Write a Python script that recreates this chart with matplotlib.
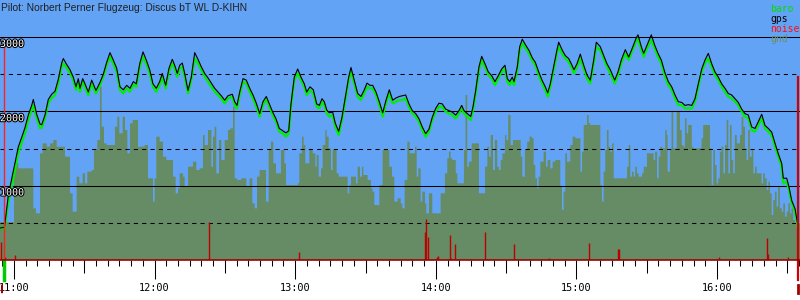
import matplotlib.pyplot as plt
import matplotlib.patheffects as pe

title = "Pilot: Norbert Perner Flugzeug: Discus bT WL D-KIHN"

# time in minutes after 11:00, baro altitude [m], gps altitude [m]
track = [
    (-5.97, 430, 430), (-4.05, 430, 440), (-2.43, 767, 870), (-0.98, 986, 1090),
    (0.43, 1210, 1300), (1.83, 1439, 1520), (3.29, 1574, 1650), (4.69, 1708, 1780),
    (6.10, 1883, 1950), (7.55, 2018, 2080), (8.24, 2085, 2160), (9.69, 1910, 1960),
    (11.09, 1776, 1830), (11.82, 1776, 1820), (13.23, 1910, 1950), (14.64, 2112, 2160),
    (16.09, 2179, 2230), (17.50, 2219, 2270), (18.90, 2381, 2430), (20.35, 2600, 2650),
    (21.04, 2645, 2710), (22.49, 2583, 2630), (23.90, 2515, 2560), (25.30, 2421, 2460),
    (26.46, 2287, 2330), (27.44, 2399, 2440), (28.16, 2264, 2310), (29.31, 2399, 2440),
    (30.30, 2331, 2370), (31.70, 2219, 2260), (33.16, 2376, 2420), (34.99, 2242, 2280),
    (36.70, 2354, 2390), (38.11, 2466, 2500), (39.56, 2623, 2660), (40.96, 2735, 2790),
    (42.37, 2645, 2690), (43.82, 2533, 2580), (45.23, 2287, 2330), (46.64, 2242, 2290),
    (48.09, 2309, 2350), (49.50, 2264, 2310), (50.91, 2360, 2400), (52.19, 2331, 2370),
    (53.64, 2600, 2640), (55.05, 2735, 2800), (56.45, 2645, 2690), (57.90, 2511, 2560),
    (59.31, 2331, 2370), (60.72, 2264, 2310), (62.17, 2354, 2400), (63.28, 2466, 2510),
    (64.73, 2309, 2350), (66.14, 2533, 2580), (67.55, 2645, 2700), (68.57, 2578, 2620),
    (69.68, 2466, 2510), (70.71, 2578, 2620), (71.82, 2600, 2650), (72.84, 2466, 2510),
    (74.25, 2242, 2280), (75.66, 2421, 2460), (77.11, 2712, 2790), (78.51, 2645, 2700),
    (79.92, 2556, 2600), (81.37, 2466, 2510), (82.78, 2399, 2450), (84.19, 2331, 2380),
    (85.64, 2264, 2310), (87.05, 2219, 2260), (88.46, 2174, 2210), (89.91, 2107, 2150),
    (91.32, 2174, 2210), (93.15, 2197, 2230), (94.18, 2085, 2130), (95.16, 2040, 2080),
    (96.31, 2219, 2260), (97.72, 2399, 2440), (99.13, 2376, 2420), (100.58, 2264, 2310),
    (101.99, 2174, 2220), (103.39, 2062, 2110), (104.84, 1928, 1970), (106.25, 2085, 2130),
    (107.66, 2163, 2200), (108.94, 2062, 2100), (110.39, 1950, 1990), (111.80, 1861, 1900),
    (113.21, 1726, 1770), (114.66, 1704, 1740), (116.06, 1659, 1710), (117.22, 1704, 1740),
    (118.20, 2062, 2100), (119.61, 2421, 2460), (121.06, 2511, 2570), (122.47, 2421, 2460),
    (123.88, 2331, 2370), (124.90, 2219, 2260), (126.31, 2287, 2330), (127.72, 2242, 2290),
    (129.17, 2062, 2100), (130.28, 2040, 2080), (131.43, 2130, 2170), (132.41, 2085, 2130),
    (133.44, 1973, 2020), (134.54, 1928, 1980), (135.99, 1950, 1990), (137.10, 1793, 1840),
    (138.55, 1681, 1730), (139.96, 1883, 1920), (141.37, 2152, 2190), (142.82, 2421, 2460),
    (143.80, 2533, 2590), (145.21, 2376, 2420), (146.66, 2197, 2240), (148.07, 2152, 2200),
    (149.48, 2242, 2290), (150.63, 2331, 2380), (151.91, 2309, 2350), (153.06, 2309, 2350),
    (154.47, 2219, 2260), (155.88, 2085, 2130), (157.33, 1928, 1980), (158.74, 2107, 2150),
    (160.15, 2242, 2290), (161.60, 2107, 2150), (163.00, 2130, 2180), (164.41, 2152, 2200),
    (165.69, 2152, 2210), (167.14, 2174, 2220), (168.55, 2062, 2100), (169.96, 1973, 2010),
    (171.41, 1928, 1970), (172.82, 1861, 1900), (174.22, 1749, 1790), (175.68, 1659, 1700),
    (177.08, 1726, 1760), (178.49, 1883, 1920), (179.94, 1995, 2040), (181.35, 2062, 2110),
    (182.76, 2062, 2100), (184.21, 1995, 2030), (185.62, 1973, 2010), (187.03, 1950, 1990),
    (188.48, 1906, 1950), (189.89, 1973, 2010), (191.04, 2040, 2080), (192.02, 1973, 2010),
    (193.43, 1928, 1970), (194.88, 1883, 1930), (195.86, 2018, 2060), (197.01, 2242, 2280),
    (198.42, 2556, 2600), (199.57, 2690, 2740), (200.98, 2600, 2640), (202.39, 2488, 2530),
    (203.84, 2444, 2480), (205.25, 2354, 2400), (206.66, 2444, 2480), (208.11, 2533, 2570),
    (209.51, 2578, 2620), (210.50, 2399, 2440), (211.52, 2354, 2400), (212.63, 2421, 2460),
    (213.36, 2354, 2400), (214.77, 2556, 2600), (215.79, 2825, 2870), (216.90, 2914, 2970),
    (218.35, 2847, 2890), (219.76, 2780, 2820), (221.17, 2680, 2720), (222.45, 2623, 2660),
    (223.90, 2488, 2530), (225.31, 2376, 2420), (226.71, 2287, 2330), (227.74, 2197, 2250),
    (228.85, 2331, 2370), (230.30, 2556, 2600), (231.71, 2780, 2830), (232.43, 2870, 2930),
    (233.84, 2780, 2830), (235.25, 2712, 2750), (236.70, 2668, 2710), (238.11, 2578, 2620),
    (238.96, 2511, 2560), (240.24, 2600, 2640), (241.65, 2712, 2770), (243.10, 2578, 2620),
    (244.51, 2444, 2490), (245.92, 2376, 2420), (247.37, 2645, 2690), (248.48, 2870, 2930),
    (250.18, 2825, 2870), (251.63, 2712, 2750), (253.04, 2600, 2640), (254.45, 2511, 2560),
    (256.33, 2376, 2420), (257.74, 2488, 2530), (259.14, 2645, 2690), (260.85, 2780, 2830),
    (262.30, 2690, 2730), (263.71, 2802, 2840), (265.42, 2937, 2980), (266.27, 2982, 3030),
    (267.68, 2825, 2870), (268.70, 2735, 2780), (270.11, 2847, 2890), (271.95, 2960, 3030),
    (273.40, 2847, 2890), (274.81, 2735, 2780), (276.22, 2645, 2690), (277.67, 2480, 2530),
    (279.21, 2354, 2400), (280.66, 2287, 2330), (282.07, 2174, 2220), (283.47, 2085, 2130),
    (284.92, 2085, 2120), (286.33, 2040, 2080), (287.74, 2040, 2090), (289.19, 2040, 2080),
    (290.60, 2130, 2170), (292.00, 2331, 2370), (293.46, 2533, 2570), (294.86, 2645, 2690),
    (296.27, 2712, 2780), (297.72, 2600, 2640), (299.13, 2488, 2530), (300.54, 2421, 2460),
    (301.99, 2331, 2370), (303.40, 2264, 2310), (304.80, 2197, 2240), (306.26, 2174, 2220),
    (307.66, 2130, 2170), (309.07, 2085, 2120), (310.52, 1995, 2030), (311.93, 1928, 1970),
    (313.34, 1906, 1950), (314.79, 1749, 1790), (316.20, 1726, 1770), (317.61, 1816, 1860),
    (319.06, 1906, 1960), (320.47, 1771, 1810), (321.88, 1726, 1770), (323.33, 1681, 1720),
    (324.74, 1524, 1570), (326.14, 1390, 1430), (327.59, 1255, 1300), (328.28, 1031, 1100),
    (329.73, 1053, 1100), (330.71, 942, 980), (331.86, 763, 800), (333.27, 650, 690),
    (334.42, 448, 480),
]

# ground elevation steps: (start minute, height [m])
ground = [
    (-5.97, 510), (0.0, 1300), (1.85, 1233), (8.25, 695), (9.39, 628), (11.1, 1435),
    (12.23, 1569), (13.94, 1524), (15.36, 1569), (16.79, 1614), (18.21, 1524), (21.76, 1390),
    (23.9, 897), (25.03, 650), (26.74, 1121), (27.87, 1031), (29.3, 1166), (30.29, 1031),
    (31.29, 1188), (33.13, 1211), (34.13, 1480), (35.55, 1614), (36.69, 2331), (37.4, 1793),
    (38.4, 1569), (39.54, 1547), (43.09, 1793), (44.09, 1928), (44.94, 1704), (46.37, 1928),
    (47.37, 1749), (48.36, 1435), (49.5, 1838), (50.64, 1883), (52.91, 1524), (55.76, 1547),
    (57.18, 1099), (59.31, 785), (60.02, 1099), (60.73, 1659), (62.16, 1592), (63.58, 1390),
    (65.0, 1345), (67.84, 1121), (68.98, 897), (69.98, 964), (70.69, 1166), (72.11, 1121),
    (72.82, 986), (74.25, 1255), (76.38, 1323), (77.8, 1211), (79.22, 1233), (80.64, 1681),
    (81.35, 1547), (82.78, 1749), (84.2, 1255), (84.91, 1659), (85.62, 1793), (86.33, 1166),
    (87.47, 1614), (88.47, 1345), (89.89, 1614), (91.31, 1749), (92.31, 1771), (93.45, 2062),
    (94.16, 1099), (95.16, 1076), (97.0, 1099), (99.13, 986), (100.55, 1099), (101.7, 762),
    (102.7, 695), (103.7, 1121), (104.8, 1211), (107.53, 785), (108.67, 1480), (109.66, 1592),
    (110.66, 1300), (111.8, 1166), (113.93, 1480), (115.35, 1300), (116.06, 1009), (121.04, 1031),
    (121.75, 1435), (122.89, 1659), (123.6, 1547), (124.31, 1300), (126.02, 1480), (127.44, 1435),
    (128.58, 1255), (129.15, 1412), (130.0, 1121), (131.0, 1233), (131.7, 1547), (132.85, 1749),
    (133.41, 1659), (134.27, 1502), (135.26, 1211), (135.97, 1480), (137.68, 1166), (138.53, 1121),
    (142.37, 897), (143.08, 1009), (143.8, 1121), (145.93, 1031), (146.64, 1255), (147.63, 1121),
    (148.49, 1255), (149.06, 1143), (150.9, 1076), (152.32, 964), (153.0, 919), (153.75, 740),
    (155.9, 1009), (157.3, 1480), (160.16, 1255), (161.3, 1121), (162.3, 785), (163.7, 830),
    (165.0, 762), (165.7, 695), (166.7, 1076), (167.84, 1592), (168.83, 1435), (171.11, 1524),
    (171.82, 1121), (172.53, 1233), (173.52, 785), (174.23, 919), (175.37, 762), (175.94, 628),
    (177.08, 897), (178.5, 628), (182.06, 897), (183.9, 1166), (184.9, 1368), (185.6, 1457),
    (186.3, 1368), (187.0, 1345), (188.5, 1166), (189.2, 1031), (192.0, 1480), (192.7, 2219),
    (193.4, 1255), (194.1, 1323), (195.3, 1569), (198.4, 897), (201.0, 1255), (202.0, 1524),
    (202.7, 1390), (203.4, 1681), (204.4, 1211), (205.2, 1614), (206.2, 1255), (206.9, 1211),
    (207.7, 1345), (208.4, 1435), (209.5, 1681), (210.1, 1614), (210.9, 1950), (211.9, 1547),
    (212.9, 1614), (216.2, 1390), (216.9, 1121), (218.0, 1480), (219.0, 1592), (220.0, 1659),
    (221.03, 1637), (221.74, 1278), (222.45, 1099), (223.16, 964), (223.87, 1121), (224.59, 1323),
    (226.0, 1457), (227.0, 1255), (227.7, 1345), (228.85, 1233), (229.85, 1323), (231.0, 1345),
    (233.1, 986), (233.83, 673), (234.54, 919), (235.25, 1435), (235.96, 1323), (237.4, 1547),
    (238.4, 1659), (239.5, 1637), (241.7, 1188), (242.4, 1457), (243.1, 1816), (244.5, 1950),
    (245.2, 1838), (245.9, 1816), (250.2, 1009), (250.9, 785), (251.6, 1188), (252.3, 1480),
    (253.0, 1749), (253.7, 1524), (254.4, 1457), (255.2, 1569), (255.9, 1099), (261.6, 1255),
    (262.3, 1547), (263.0, 1121), (263.7, 1188), (264.4, 1121), (265.1, 1255), (265.8, 1166),
    (266.5, 1121), (268.0, 1166), (268.7, 1255), (270.1, 1435), (272.9, 1345), (273.6, 1457),
    (274.4, 1099), (275.1, 1390), (275.8, 1524), (276.5, 1502), (277.9, 1749), (278.5, 1681),
    (278.9, 1188), (279.9, 1480), (280.6, 1995), (281.3, 1502), (282.8, 1995), (284.2, 1749),
    (284.9, 1547), (285.6, 1524), (286.3, 1906), (287.0, 1704), (287.7, 1816), (289.2, 1524),
    (289.9, 1502), (293.4, 1637), (294.1, 1816), (297.0, 1502), (297.7, 1009), (298.4, 1480),
    (299.1, 1278), (299.8, 1031), (300.5, 1099), (301.2, 1457), (301.9, 1524), (302.7, 1166),
    (303.4, 1547), (304.1, 1883), (304.8, 1166), (305.5, 1816), (306.2, 1345), (306.9, 1166),
    (307.6, 1681), (308.4, 1569), (309.8, 1681), (310.5, 1928), (311.2, 1793), (311.9, 1502),
    (312.6, 1345), (313.3, 1749), (314.0, 1390), (314.8, 1480), (315.5, 1166), (316.2, 1255),
    (316.9, 1166), (319.0, 1031), (319.7, 1166), (320.4, 1099), (321.2, 942), (321.9, 1054),
    (322.6, 897), (323.3, 605), (324.0, 807), (324.7, 919), (325.4, 717), (326.1, 986),
    (326.8, 695), (327.6, 650), (328.3, 762), (329.0, 583), (329.7, 650), (330.4, 762),
    (331.1, 628), (331.8, 695), (332.5, 538), (333.2, 493), (335.5, 493),
]

# engine noise level: (minute, level)
noise = [
    (-5.55, 242), (-3.71, 40), (0.55, 67), (5.97, 13), (33.7, 13), (83.08, 511),
    (121.74, 108), (175.5, 377), (175.9, 552), (176.8, 309), (180.7, 40), (181.1, 54),
    (186.2, 336), (186.6, 27), (188.3, 215), (201.1, 377), (202.0, 13), (213.5, 215),
    (228.4, 27), (245.5, 229), (257.8, 148), (258.2, 148), (301.0, 40), (321.4, 296),
    (321.9, 81), (330.1, 40),
]

takeoff_t = -4.14
landing_t = 334.7
hour_ticks = [0, 60, 120, 180, 240, 300]
hour_labels = ["11:00", "12:00", "13:00", "14:00", "15:00", "16:00"]
y_labels = [1000, 2000, 3000]

bg = "#63a3f6"
gnd_col = "#658c64"

fig = plt.figure(figsize=(8, 3), dpi=100)
ax = fig.add_axes([0, 40 / 300, 1, 260 / 300])
ax.set_facecolor(bg)
ax.set_xlim(-5.97, 335.4)
ax.set_ylim(0, 3498)

gt = [g[0] for g in ground]
gv = [g[1] for g in ground]
ax.fill_between(gt, gv, 0, step="post", color=gnd_col, lw=0, zorder=1)

for v in [1000, 2000, 3000]:
    ax.axhline(v, color="black", lw=0.75, zorder=2)
for v in [500, 1500, 2500]:
    ax.axhline(v, color="black", lw=0.75, ls=(0, (4, 4)), zorder=2)

nt = [n[0] for n in noise]
nv = [n[1] for n in noise]
ax.vlines(nt, 0, nv, color="#c00000", lw=1.0, zorder=3)

tt = [p[0] for p in track]
baro = [p[1] for p in track]
gps = [p[2] for p in track]
ax.plot(tt, baro, color="#00ee00", lw=1.6, zorder=4)
ax.plot(tt, gps, color="black", lw=0.8, zorder=5)

# start / end markers
xt = ax.get_xaxis_transform()
ax.plot([takeoff_t, takeoff_t], [0, 2973], color="#ff2020", lw=1.0, zorder=6)
ax.plot([landing_t, landing_t], [0, 2461], color="#d00000", lw=1.6, zorder=6)
ax.plot([landing_t, landing_t], [0, -20 / 260], transform=xt, color="#d00000", lw=1.6, clip_on=False)
ax.plot([takeoff_t, takeoff_t], [-1 / 260, -20 / 260], transform=xt, color="#00cc00", lw=2.5, clip_on=False)
ax.plot([-5.5, -4.5], [-29 / 260, -29 / 260], transform=xt, color="#a00000", lw=6, clip_on=False, solid_capstyle="butt")
ax.plot([landing_t, landing_t], [-25 / 260, -33 / 260], transform=xt, color="#a00000", lw=2, clip_on=False)

for s in ["top", "left", "right"]:
    ax.spines[s].set_visible(False)
ax.spines["bottom"].set_color("#a00000")
ax.spines["bottom"].set_linewidth(1.2)
ax.spines["bottom"].set_zorder(7)

ax.set_yticks([])
ax.set_xticks(hour_ticks)
ax.set_xticklabels(hour_labels, family="DejaVu Sans Mono", fontsize=7.4)
ax.set_xticks(range(-5, 336, 5), minor=True)
ax.tick_params(axis="x", which="major", length=14, width=0.75, color="black", pad=2.5)
ax.tick_params(axis="x", which="minor", length=4.5, width=0.75, color="black")
half = [30, 90, 150, 210, 270, 330]
ax.vlines(half, 0, -13 / 260, transform=xt, color="black", lw=0.75, clip_on=False)

for v in y_labels:
    ax.text(0.0, v - 25, str(v), transform=ax.get_yaxis_transform(), ha="left", va="top",
            family="DejaVu Sans Mono", fontsize=7.2, color="white", zorder=8,
            path_effects=[pe.withStroke(linewidth=1.5, foreground="black")])

fig.text(0.001, 1 - 8 / 300, title, family="Liberation Sans", fontsize=7.4, color="#202020", va="center")

legend = [("baro", "#00dd00"), ("gps", "black"), ("noise", "#ff1010"), ("gnd", "#6e8e60")]
for i, (name, col) in enumerate(legend):
    fig.text(770 / 800, 1 - (9 + 10 * i) / 300, name, family="DejaVu Sans Mono", fontsize=7,
             color=col, va="center", ha="left")

fig.savefig("out.png", dpi=100)
